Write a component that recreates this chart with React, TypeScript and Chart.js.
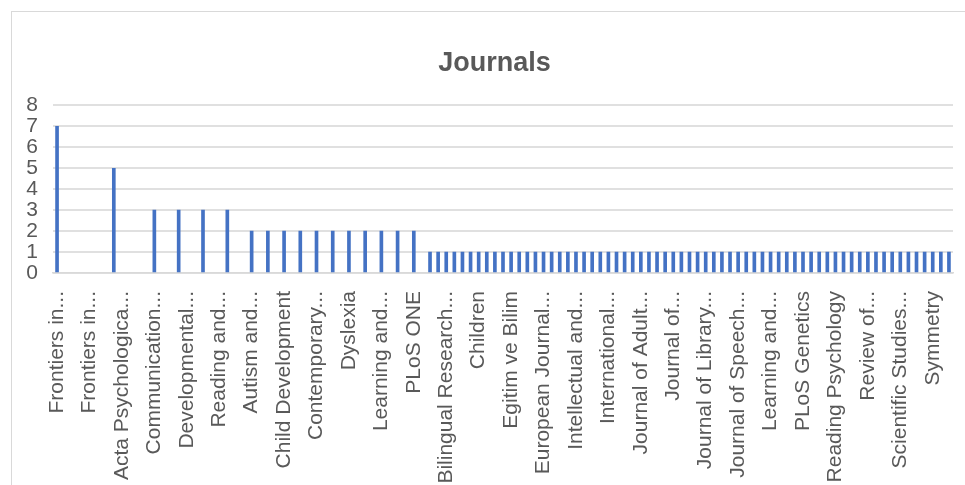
import React, { useEffect, useRef } from "react";
import { Chart, registerables } from "chart.js";

Chart.register(...registerables);

// Journals (as displayed, Excel-truncated) and number of articles per journal.
const journals: string[] = [
  "Frontiers in...", "Acta Psychologica...", "Communication...", "Developmental...", "Reading and...",
  "Research in...", "Autism and...", "Brain Sciences", "Child Development", "Cognition",
  "Contemporary...", "Cortex", "Dyslexia", "Journal of...", "Learning and...",
  "Neuropsychologia", "PLoS ONE",
  "Annals of Dyslexia", "Applied...", "Bilingual Research...", "Brain and Language", "British Journal of...",
  "Child...", "Children", "Cognitive...", "Computers &...", "Educational...",
  "Egitim ve Bilim", "English Language...", "Epilepsy &...", "European Child &...", "European Journal...",
  "Experimental Brain...", "Human Brain Mapping", "Infant Behavior and...", "Intellectual and...", "Intelligence",
  "International...", "International...", "International...", "Journal of Abnormal...", "Journal of...",
  "Journal of...", "Journal of Adult...", "Journal of Attention...", "Journal of Child...", "Journal of...",
  "Journal of...", "Journal of...", "Journal of...", "Journal of Learning...", "Journal of Library...",
  "Journal of Memory...", "Journal of...", "Journal of Research...", "Journal of Speech...", "Language and Speech",
  "Language Learning", "Language, Speech...", "Learning and...", "Memory & Cognition", "NeuroImage",
  "Neuropsychology", "PLoS Genetics", "Psychological...", "Psychonomic...", "Quarterly Journal...",
  "Reading Psychology", "Reading Research...", "Remedial and...", "Research in Autism...", "Review of...",
  "SAGE Open", "Scandinavian...", "School Psychology...", "Scientific Studies...", "Sensors",
  "Social Sciences", "Sustainability", "Symmetry", "Topics in Language...", "Written Language...",
];

const articleCounts: number[] = [
  7, 5, 3, 3, 3,
  3, 2, 2, 2, 2,
  2, 2, 2, 2, 2,
  2, 2,
  1, 1, 1, 1, 1,
  1, 1, 1, 1, 1,
  1, 1, 1, 1, 1,
  1, 1, 1, 1, 1,
  1, 1, 1, 1, 1,
  1, 1, 1, 1, 1,
  1, 1, 1, 1, 1,
  1, 1, 1, 1, 1,
  1, 1, 1, 1, 1,
  1, 1, 1, 1, 1,
  1, 1, 1, 1, 1,
  1, 1, 1, 1, 1,
  1, 1, 1, 1, 1,
];

const yTicks: number[] = [0, 1, 2, 3, 4, 5, 6, 7, 8];
const LABEL_EVERY = 4;

// One category per article row; the count sits on the first row of each journal.
const categoryLabels: string[] = [];
const categoryValues: (number | null)[] = [];
journals.forEach((name, i) => {
  for (let k = 0; k < articleCounts[i]; k++) {
    categoryLabels.push(name);
    categoryValues.push(k === 0 ? articleCounts[i] : null);
  }
});

const FONT = "'Liberation Sans', Arial, sans-serif";
const TEXT = "#595959";

// The y axis is given a narrow box so the (full-width) title centres like Excel's;
// widen its label clip area back to the canvas edge after layout.
const yLabelRoom = {
  id: "yLabelRoom",
  afterLayout(chart: any) {
    if (chart.scales.y) chart.scales.y.left = 0;
  },
};

export default function App() {
  const ref = useRef<HTMLCanvasElement>(null);

  useEffect(() => {
    if (!ref.current) return;
    const chart = new Chart(ref.current, {
      type: "bar",
      data: {
        labels: categoryLabels,
        datasets: [
          {
            label: "Journals",
            data: categoryValues,
            backgroundColor: "#4472C4",
            barThickness: 3,
          },
        ],
      },
      plugins: [yLabelRoom],
      options: {
        responsive: false,
        animation: false,
        devicePixelRatio: 1,
        layout: { padding: { top: 0, left: 36, right: 12, bottom: 0 } },
        plugins: {
          legend: { display: false },
          tooltip: { enabled: false },
          title: {
            display: true,
            text: "Journals",
            color: TEXT,
            font: { family: FONT, size: 27, weight: "bold", lineHeight: 1.2 },
            padding: { top: 47, bottom: 26 },
          },
        },
        scales: {
          x: {
            grid: { display: false },
            border: { display: true, color: "#d9d9d9", width: 1.5 },
            ticks: {
              autoSkip: false,
              maxRotation: 90,
              minRotation: 90,
              padding: 10,
              color: TEXT,
              font: { family: FONT, size: 21 },
              callback: (_v: any, i: number) => (i % LABEL_EVERY === 0 ? categoryLabels[i] : ""),
            },
            afterFit: (s: any) => {
              s.height = 212;
              s.paddingLeft = 0;
              s.paddingRight = 0;
            },
          },
          y: {
            min: yTicks[0],
            max: yTicks[yTicks.length - 1],
            ticks: {
              stepSize: 1,
              autoSkip: false,
              padding: 15,
              color: TEXT,
              font: { family: FONT, size: 21 },
            },
            grid: { color: "#e0e0e0", lineWidth: 2, drawTicks: false },
            border: { display: false },
            afterFit: (s: any) => {
              s.width = 17;
            },
          },
        },
      },
    });
    return () => chart.destroy();
  }, []);

  return (
    <div
      style={{
        position: "absolute",
        left: 0,
        top: 0,
        width: 965,
        height: 485,
        overflow: "hidden",
        background: "#ffffff",
      }}
    >
      <div
        style={{
          position: "absolute",
          left: 11,
          top: 11,
          width: 2000,
          height: 2000,
          border: "1.5px solid #d9d9d9",
        }}
      />
      <canvas
        ref={ref}
        width={965}
        height={485}
        style={{ position: "absolute", left: 0, top: 0, width: 965, height: 485 }}
      />
    </div>
  );
}
